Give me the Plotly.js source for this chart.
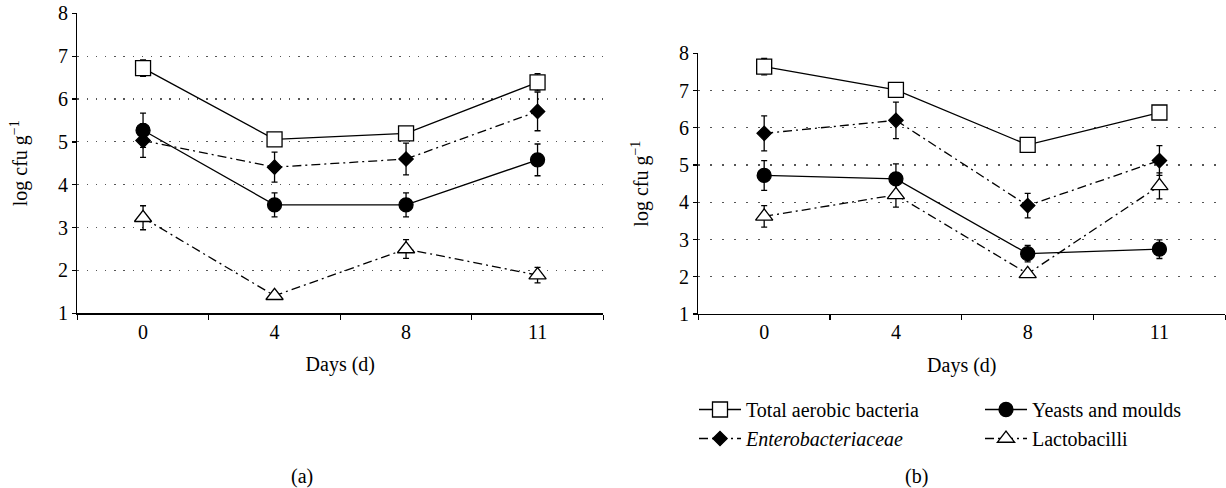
<!DOCTYPE html>
<html><head><meta charset="utf-8">
<script src="https://cdn.plot.ly/plotly-3.0.1.min.js"></script>
<style>html,body{margin:0;padding:0;background:#fff}#chart{width:1226px;height:488px}</style>
</head><body><div id="chart"></div>
<script>
// ---- data ----
const days = ["0", "4", "8", "11"];
const seriesNames = ["Total aerobic bacteria", "<i>Enterobacteriaceae</i>", "Yeasts and moulds", "Lactobacilli"];
const yTicks = [1, 2, 3, 4, 5, 6, 7, 8];

// panel (a)
const totalA = [6.72, 5.06, 5.20, 6.39];
const totalAErr = [0.19, 0.10, 0.12, 0.20];
const enteroA = [5.03, 4.41, 4.60, 5.71];
const enteroAErr = [0.39, 0.35, 0.37, 0.45];
const yeastA = [5.27, 3.53, 3.53, 4.58];
const yeastAErr = [0.40, 0.28, 0.28, 0.37];
const lactoA = [3.23, 1.41, 2.50, 1.89];
const lactoAErr = [0.28, 0.05, 0.22, 0.18];

// panel (b)
const totalB = [7.64, 7.02, 5.54, 6.41];
const totalBErr = [0.22, 0.15, 0.05, 0.15];
const enteroB = [5.85, 6.20, 3.91, 5.12];
const enteroBErr = [0.47, 0.49, 0.33, 0.40];
const yeastB = [4.72, 4.63, 2.62, 2.74];
const yeastBErr = [0.40, 0.40, 0.22, 0.25];
const lactoB = [3.62, 4.20, 2.08, 4.44];
const lactoBErr = [0.29, 0.33, 0.05, 0.35];

// ---- styling ----
const FONT = "Liberation Serif, Times New Roman, serif";
const W = 1226, H = 488;
const px = v => v / W, py = v => 1 - v / H;
const dashDot = "9px,4px,2px,4px";

const styles = [
  {symbol: "square", size: 15, fill: "#fff", dash: "solid"},
  {symbol: "diamond", size: 11, fill: "#000", dash: dashDot},
  {symbol: "circle", size: 14, fill: "#000", dash: "solid"},
  {symbol: "triangle-up", size: 15, fill: "#fff", dash: dashDot}
];

function mk(i, y, err, xa, ya, showleg, leg) {
  const s = styles[i];
  return {
    type: "scatter", mode: "lines+markers",
    x: days, y: y, xaxis: xa, yaxis: ya,
    name: seriesNames[i], showlegend: showleg, legend: leg,
    line: {color: "#000", width: 1.3, dash: s.dash},
    marker: {symbol: s.symbol, size: s.size, color: s.fill, line: {color: "#000", width: 1.3}},
    error_y: {type: "data", array: err, visible: true, color: "#000", thickness: 1.3, width: 3}
  };
}

const data = [
  mk(0, totalA, totalAErr, "x", "y", false),
  mk(1, enteroA, enteroAErr, "x", "y", false),
  mk(2, yeastA, yeastAErr, "x", "y", false),
  mk(3, lactoA, lactoAErr, "x", "y", false),
  mk(0, totalB, totalBErr, "x2", "y2", true, "legend"),
  mk(1, enteroB, enteroBErr, "x2", "y2", true, "legend"),
  mk(2, yeastB, yeastBErr, "x2", "y2", true, "legend2"),
  mk(3, lactoB, lactoBErr, "x2", "y2", true, "legend2")
];

function xax(domain) {
  return {
    domain: domain, type: "category", range: [-0.5, 3.5],
    categoryorder: "array", categoryarray: days,
    tickson: "boundaries", ticks: "outside", ticklen: 5, tickwidth: 1.3, tickcolor: "#000",
    showline: true, linecolor: "#000", linewidth: 1.3, showgrid: false, zeroline: false,
    tickfont: {family: FONT, size: 20, color: "#000"},
    title: {text: "Days (d)", font: {family: FONT, size: 20, color: "#000"}, standoff: 15}
  };
}
function yax(domain, anchor, gdash) {
  return {
    domain: domain, anchor: anchor, range: [1, 8], tickvals: yTicks,
    ticks: "outside", ticklen: 4, tickwidth: 1.3, tickcolor: "#000",
    showline: true, linecolor: "#000", linewidth: 1.3, zeroline: false,
    showgrid: true, gridcolor: "#555", gridwidth: 1.2, griddash: gdash,
    tickfont: {family: FONT, size: 20, color: "#000"},
    title: {text: "log cfu g<sup>−1</sup>", font: {family: FONT, size: 20, color: "#000"}}
  };
}

const legendBase = {
  orientation: "v", xanchor: "left", yanchor: "top", y: py(390),
  bgcolor: "rgba(0,0,0,0)", borderwidth: 0, tracegroupgap: 0, itemwidth: 42,
  font: {family: FONT, size: 20, color: "#000"}
};

const layout = {
  width: W, height: H,
  margin: {l: 0, r: 0, t: 0, b: 0},
  paper_bgcolor: "#fff", plot_bgcolor: "#fff",
  font: {family: FONT, size: 20, color: "#000"},
  xaxis: Object.assign(xax([px(77.3), px(603.3)]), {anchor: "y"}),
  yaxis: yax([py(313.3), py(13.3)], "x", "1.5px,7.7px"),
  xaxis2: Object.assign(xax([px(698.3), px(1225.3)]), {anchor: "y2"}),
  yaxis2: yax([py(314), py(53.3)], "x2", "1.5px,10.5px"),
  legend: Object.assign({}, legendBase, {x: px(694)}),
  legend2: Object.assign({}, legendBase, {x: px(980)}),
  annotations: [
    {text: "(a)", x: px(302), y: py(476), xref: "paper", yref: "paper", showarrow: false,
     xanchor: "center", yanchor: "middle", font: {family: FONT, size: 20, color: "#000"}},
    {text: "(b)", x: px(917), y: py(476), xref: "paper", yref: "paper", showarrow: false,
     xanchor: "center", yanchor: "middle", font: {family: FONT, size: 20, color: "#000"}}
  ]
};

Plotly.newPlot("chart", data, layout, {displayModeBar: false, staticPlot: true});
</script>
</body></html>
